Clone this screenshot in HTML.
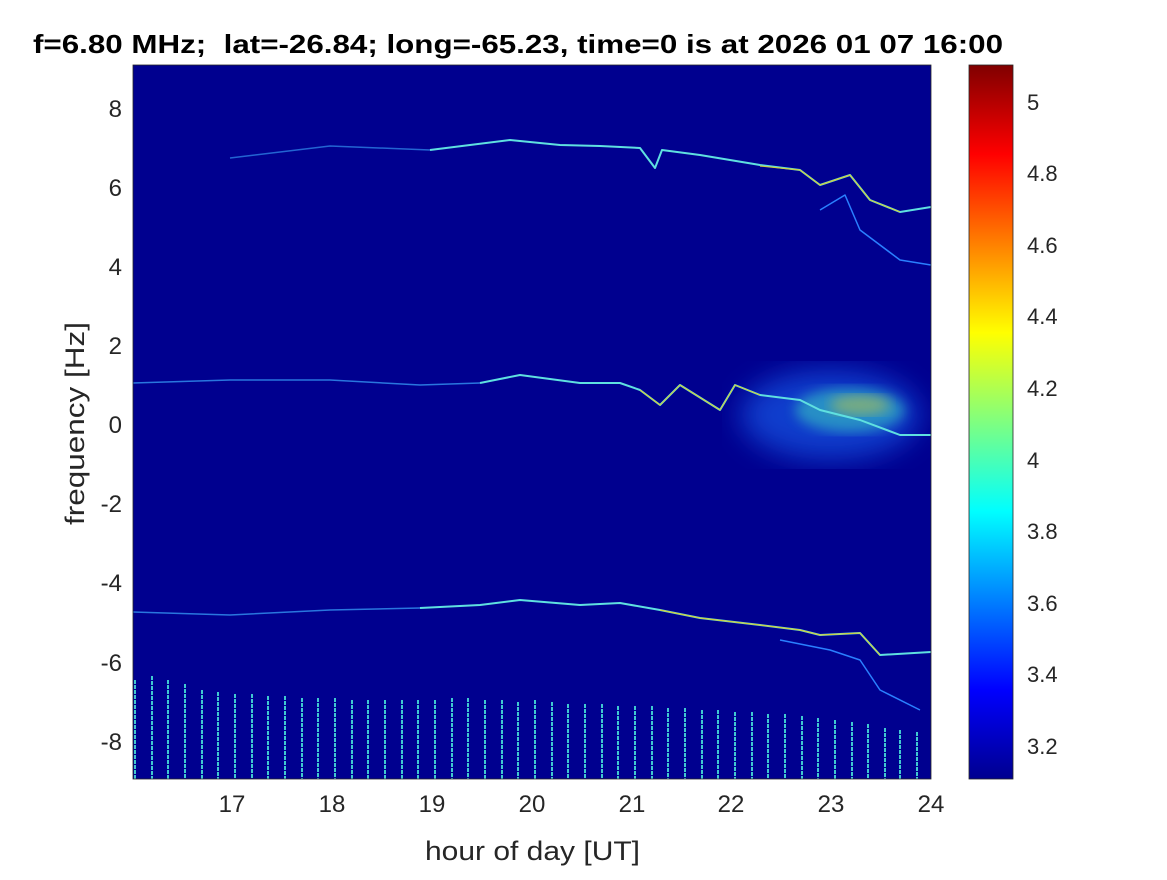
<!DOCTYPE html>
<html><head><meta charset="utf-8"><style>
body{margin:0;background:#fff;width:1167px;height:875px;overflow:hidden;font-family:"Liberation Sans",sans-serif}
</style></head><body>
<svg width="1167" height="875" viewBox="0 0 1167 875" xmlns="http://www.w3.org/2000/svg" font-family="Liberation Sans, sans-serif">
<defs>
<linearGradient id="jet" x1="0" y1="1" x2="0" y2="0">
<stop offset="0" stop-color="#00008f"/>
<stop offset="0.125" stop-color="#0000ff"/>
<stop offset="0.375" stop-color="#00ffff"/>
<stop offset="0.625" stop-color="#ffff00"/>
<stop offset="0.875" stop-color="#ff0000"/>
<stop offset="1" stop-color="#800000"/>
</linearGradient>
<filter id="b1"><feGaussianBlur stdDeviation="14"/></filter>
<filter id="b2"><feGaussianBlur stdDeviation="6"/></filter>
<clipPath id="c"><rect x="133" y="65" width="798" height="714"/></clipPath>
</defs>
<text x="33" y="53" font-size="26" font-weight="bold" textLength="970" lengthAdjust="spacingAndGlyphs" xml:space="preserve">f=6.80 MHz;  lat=-26.84; long=-65.23, time=0 is at 2026 01 07 16:00</text>
<rect x="133" y="65" width="798" height="714" fill="#00008f"/>
<g clip-path="url(#c)">
<ellipse cx="830" cy="415" rx="90" ry="45" fill="#1f6fff" opacity="0.55" filter="url(#b1)"/>
<ellipse cx="850" cy="410" rx="55" ry="22" fill="#40e0c0" opacity="0.5" filter="url(#b2)"/>
<ellipse cx="860" cy="405" rx="30" ry="10" fill="#c8c840" opacity="0.5" filter="url(#b2)"/>
<g fill="none" stroke-linejoin="round">
<polyline stroke="#3aa8ff" stroke-width="1.5" opacity="0.6" points="230,158 330,146 430,150"/>
<polyline stroke="#5fe0e0" stroke-width="2" points="430,150 510,140 560,145 600,146 640,148 655,168 662,150 700,155 760,165 800,170 820,185 850,175 870,200 900,212 931,207"/>
<polyline stroke="#d0d040" stroke-width="1.2" points="760,166 800,170 820,185 850,175 870,200 900,212"/>
<polyline stroke="#2a80ff" stroke-width="1.5" points="820,210 845,195 860,230 900,260 931,265"/>
<polyline stroke="#3aa8ff" stroke-width="1.5" opacity="0.7" points="133,383 230,380 330,380 420,385 480,383"/>
<polyline stroke="#5fe0e0" stroke-width="2" points="480,383 520,375 580,383 620,383 640,390 660,405 680,385 720,410 735,385 760,395 800,400 820,410 860,420 900,435 931,435"/>
<polyline stroke="#d0d040" stroke-width="1.2" points="640,390 660,405 680,385 720,410 735,385 760,395"/>
<polyline stroke="#3aa8ff" stroke-width="1.5" opacity="0.7" points="133,612 230,615 330,610 420,608"/>
<polyline stroke="#5fe0e0" stroke-width="2" points="420,608 480,605 520,600 580,605 620,603 660,610 700,618 760,625 800,630 820,635 860,633 880,655 931,652"/>
<polyline stroke="#d0d040" stroke-width="1.2" points="660,610 700,618 760,625 800,630 820,635 860,633 880,655"/>
<polyline stroke="#2a80ff" stroke-width="1.5" points="780,640 830,650 860,660 880,690 920,710"/>
</g>
<g stroke="#40c8d0" stroke-width="2" stroke-dasharray="4,1">
<line x1="135" y1="680" x2="135" y2="779"/><line x1="152" y1="676" x2="152" y2="779"/><line x1="168" y1="680" x2="168" y2="779"/><line x1="185" y1="684" x2="185" y2="779"/><line x1="202" y1="690" x2="202" y2="779"/><line x1="218" y1="692" x2="218" y2="779"/><line x1="235" y1="694" x2="235" y2="779"/><line x1="252" y1="694" x2="252" y2="779"/><line x1="268" y1="696" x2="268" y2="779"/><line x1="285" y1="696" x2="285" y2="779"/><line x1="302" y1="698" x2="302" y2="779"/><line x1="318" y1="698" x2="318" y2="779"/><line x1="335" y1="698" x2="335" y2="779"/><line x1="352" y1="700" x2="352" y2="779"/><line x1="368" y1="700" x2="368" y2="779"/><line x1="385" y1="700" x2="385" y2="779"/><line x1="402" y1="700" x2="402" y2="779"/><line x1="418" y1="700" x2="418" y2="779"/><line x1="435" y1="700" x2="435" y2="779"/><line x1="452" y1="698" x2="452" y2="779"/><line x1="468" y1="698" x2="468" y2="779"/><line x1="485" y1="700" x2="485" y2="779"/><line x1="502" y1="700" x2="502" y2="779"/><line x1="518" y1="702" x2="518" y2="779"/><line x1="535" y1="700" x2="535" y2="779"/><line x1="552" y1="702" x2="552" y2="779"/><line x1="568" y1="704" x2="568" y2="779"/><line x1="585" y1="704" x2="585" y2="779"/><line x1="602" y1="704" x2="602" y2="779"/><line x1="618" y1="706" x2="618" y2="779"/><line x1="635" y1="706" x2="635" y2="779"/><line x1="652" y1="706" x2="652" y2="779"/><line x1="668" y1="708" x2="668" y2="779"/><line x1="685" y1="708" x2="685" y2="779"/><line x1="702" y1="710" x2="702" y2="779"/><line x1="718" y1="710" x2="718" y2="779"/><line x1="735" y1="712" x2="735" y2="779"/><line x1="752" y1="712" x2="752" y2="779"/><line x1="768" y1="714" x2="768" y2="779"/><line x1="785" y1="714" x2="785" y2="779"/><line x1="802" y1="716" x2="802" y2="779"/><line x1="818" y1="718" x2="818" y2="779"/><line x1="835" y1="720" x2="835" y2="779"/><line x1="852" y1="722" x2="852" y2="779"/><line x1="868" y1="724" x2="868" y2="779"/><line x1="885" y1="728" x2="885" y2="779"/><line x1="900" y1="730" x2="900" y2="779"/><line x1="917" y1="732" x2="917" y2="779"/>
</g>
</g>
<rect x="133" y="65" width="798" height="714" fill="none" stroke="#262626" stroke-width="0.8"/>
<g font-size="24" fill="#262626" text-anchor="end">
<text x="122" y="117">8</text><text x="122" y="196">6</text><text x="122" y="275">4</text><text x="122" y="354">2</text><text x="122" y="433">0</text><text x="122" y="512">-2</text><text x="122" y="591">-4</text><text x="122" y="671">-6</text><text x="122" y="750">-8</text>
</g>
<g font-size="24" fill="#262626" text-anchor="middle">
<text x="232" y="812">17</text><text x="332" y="812">18</text><text x="432" y="812">19</text><text x="532" y="812">20</text><text x="632" y="812">21</text><text x="731" y="812">22</text><text x="831" y="812">23</text><text x="931" y="812">24</text>
</g>
<text x="425" y="860" font-size="27" fill="#262626" textLength="215" lengthAdjust="spacingAndGlyphs">hour of day [UT]</text>
<text transform="translate(84,525) rotate(-90)" font-size="27" fill="#262626" textLength="203" lengthAdjust="spacingAndGlyphs">frequency [Hz]</text>
<rect x="969" y="65" width="44" height="714" fill="url(#jet)" stroke="#262626" stroke-width="0.8"/>
<g font-size="22" fill="#262626">
<text x="1027" y="110">5</text><text x="1027" y="181">4.8</text><text x="1027" y="253">4.6</text><text x="1027" y="324">4.4</text><text x="1027" y="396">4.2</text><text x="1027" y="468">4</text><text x="1027" y="539">3.8</text><text x="1027" y="611">3.6</text><text x="1027" y="682">3.4</text><text x="1027" y="754">3.2</text>
</g>
</svg>
</body></html>
